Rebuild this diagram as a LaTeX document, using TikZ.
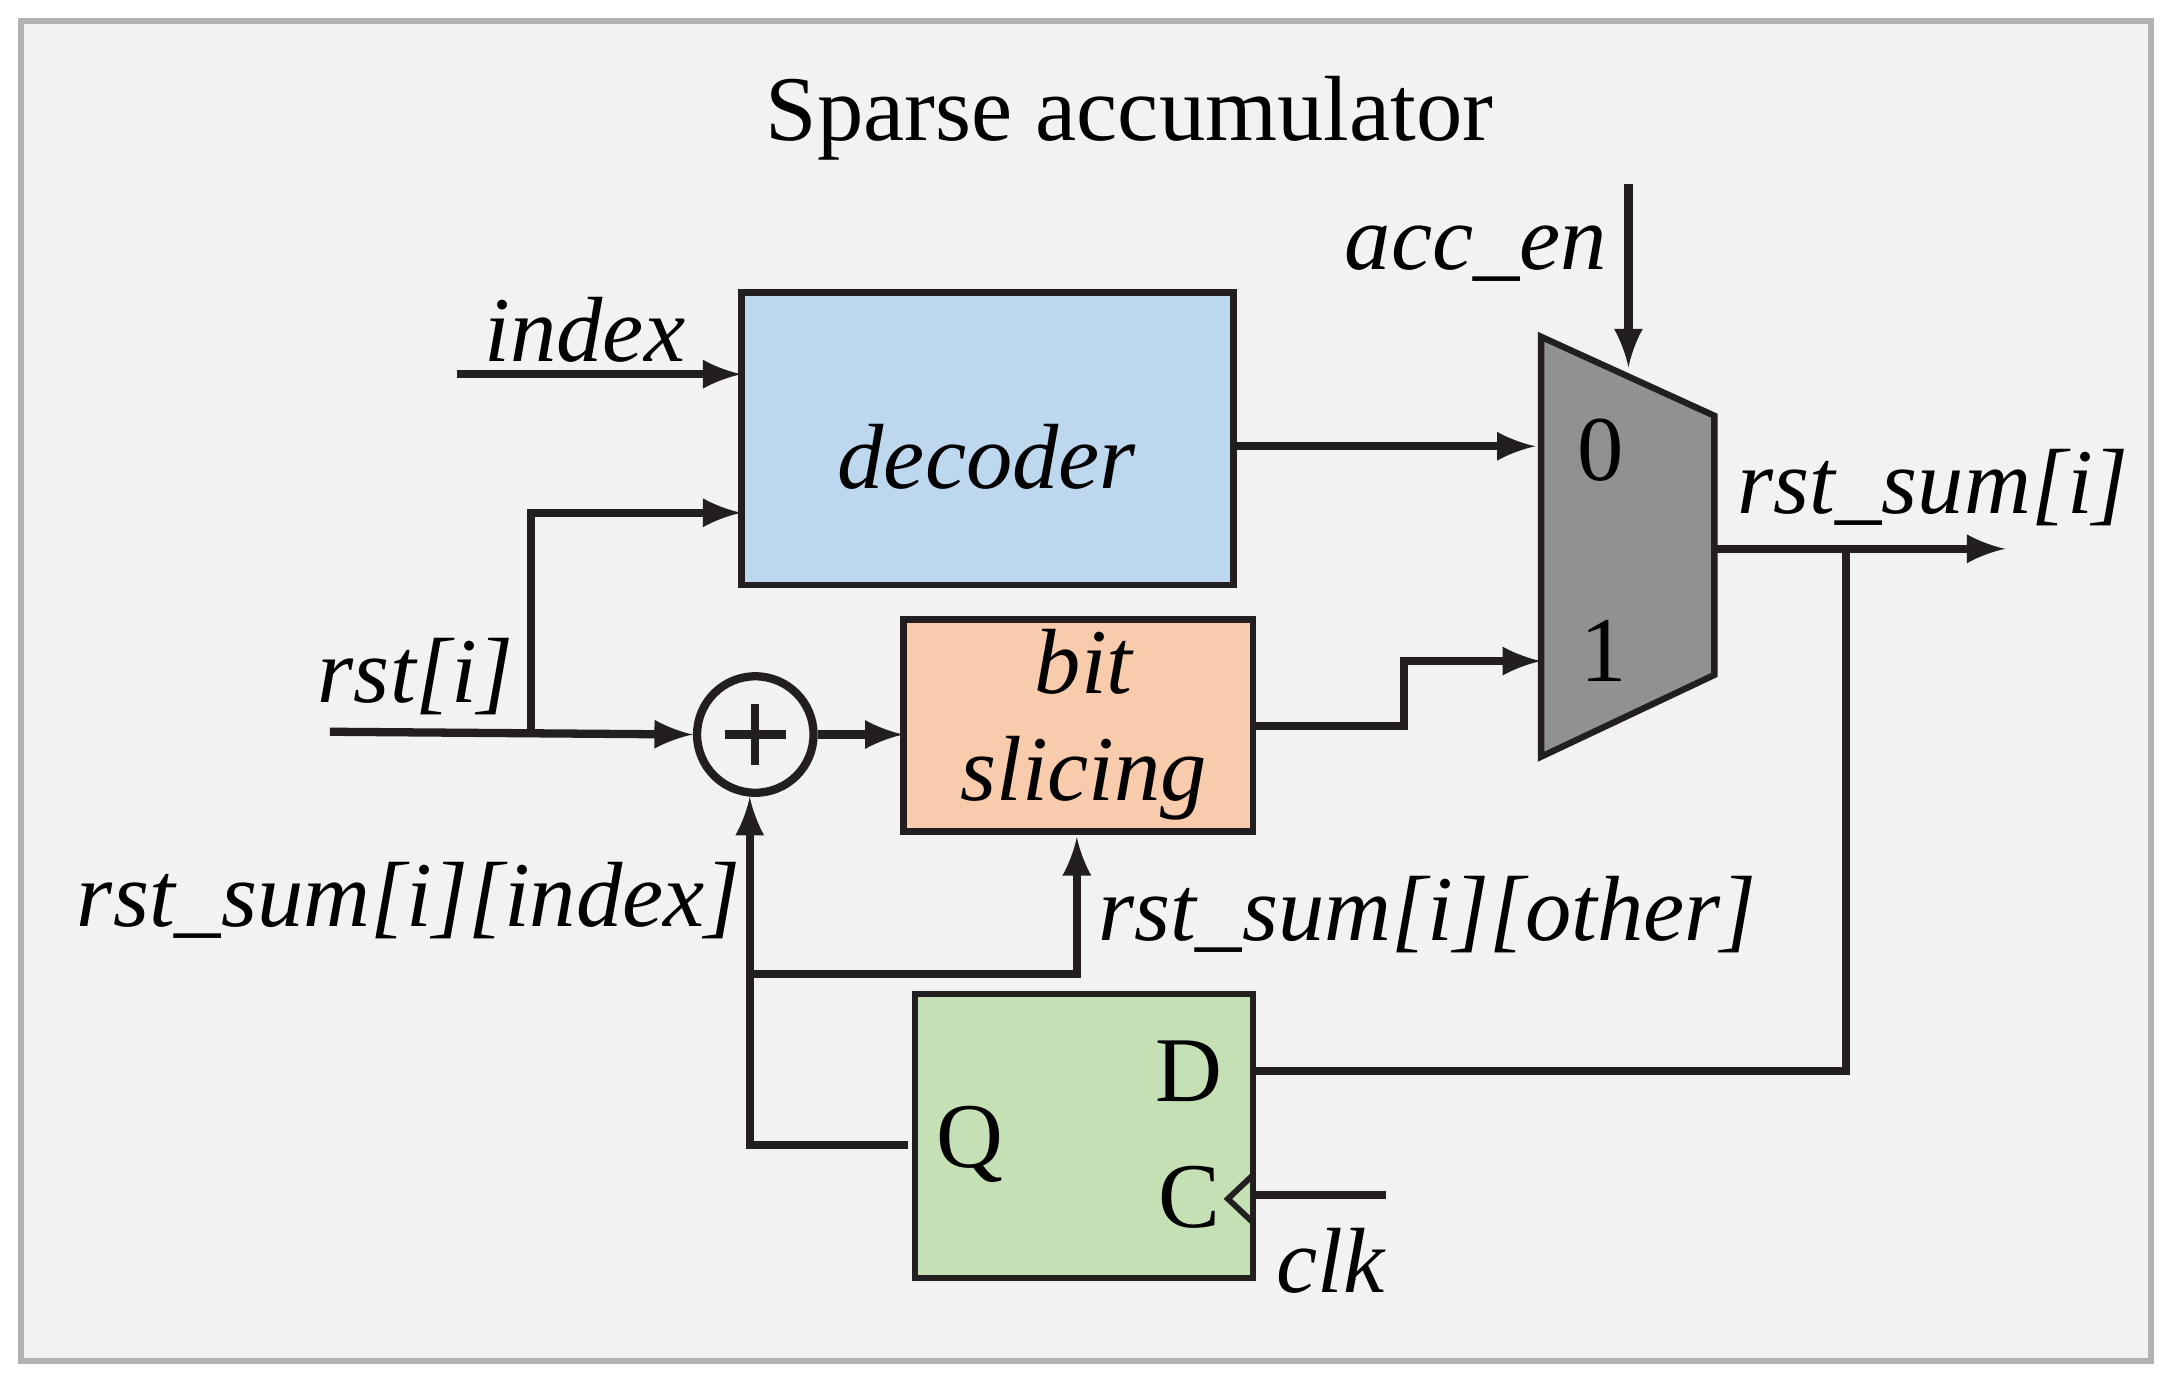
\documentclass[tikz,border=0pt]{standalone}
\usepackage{fontspec}
\setmainfont{Liberation Serif}
\usepackage{tikz}
\usetikzlibrary{positioning,calc,arrows.meta}
\definecolor{bgfill}{HTML}{F2F2F2}
\definecolor{decfill}{HTML}{BDD7EE}
\definecolor{slicefill}{HTML}{F8CBAD}
\definecolor{fffill}{HTML}{C5E0B4}
\definecolor{muxfill}{HTML}{919191}
\definecolor{wirec}{HTML}{231F20}
\begin{document}
\begin{tikzpicture}[x=0.01cm,y=-0.01cm,
    blk/.style={draw=wirec,line width=1.3pt,inner sep=0pt},
    lbl/.style={font=\fontsize{19}{22}\selectfont\itshape},
    pin/.style={font=\fontsize{19}{22}\selectfont},
    wire/.style={line width=1.7pt,draw=wirec}]
	\useasboundingbox (0,0) rectangle (1560,997);
	\draw[draw=gray!60,line width=1.2pt,fill=bgfill] (15,15) rectangle (1552,982);
	\node[font=\fontsize{19}{22}\selectfont] (title) at (815,85) {Sparse accumulator};

	\draw[blk,fill=decfill] (535,211) rectangle (890,422);
	\node[lbl] (dec) at (712,330) {decoder};
	\draw[blk,fill=slicefill] (652,447) rectangle (904,600);
	\node[lbl,align=center] (slice) at (782,523) {bit\\slicing};
	\draw[blk,fill=fffill] (660,717) rectangle (904,922);
	\node[pin] (D) at (858,773) {D};
	\node[pin] (Q) at (700,826) {Q};
	\node[pin] (C) at (858,864) {C};
	\draw[wire,line width=1.2pt] (904,848) -- (886,865) -- (904,882);
	\draw[blk,fill=muxfill] (1112,243) -- (1237,300) -- (1237,487) -- (1112,546) -- cycle;
	\node[pin] (m0) at (1155,325) {0};
	\node[pin] (m1) at (1157,470) {1};
	\node[circle,draw=wirec,line width=1.7pt,minimum size=0.84cm,inner sep=0pt] (add) at (545,530) {};
	\draw[wire] ($(add.center)+(0,-22)$) -- ($(add.center)+(0,22)$)
	            ($(add.center)+(-22,0)$) -- ($(add.center)+(22,0)$);

	\node[lbl] (idx) at (422,238) {index};
	\node[lbl] (rst) at (300,488) {rst[i]};
	\node[lbl] (acc) at (1065,183) {acc\_en};
	\node[lbl] (sum) at (1395,352) {rst\_sum[i]};
	\node[lbl] (sumidx) at (295,650) {rst\_sum[i][index]};
	\node[lbl] (sumoth) at (1030,660) {rst\_sum[i][other]};
	\node[lbl] (clk) at (960,910) {clk};

	\coordinate (idxin) at (330,270);
	\coordinate (rstin) at (238,528);
	\coordinate (accin) at (1175,133);
	\coordinate (out) at (1447,396);
	\coordinate (tap) at (1332,396);
	\coordinate (clkin) at (1000,862);

	\draw[wire,-latex] (idxin) -- (535,270);
	\draw[wire,-latex] (rstin) -- (add.west);
	\draw[wire,-latex] (383,528) -- (383,370) -- (535,370);
	\draw[wire,-latex] (add.east) -- (652,530);
	\draw[wire,-latex] (890,322) -- (1108,322);
	\draw[wire,-latex] (904,524) -- (1013,524) -- (1013,477) -- (1112,477);
	\draw[wire,-latex] (accin) -- (1175,265);
	\draw[wire,-latex] (1237,396) -- (out);
	\draw[wire] (tap) -- (1332,773) -- (904,773);
	\draw[wire,-latex] (655,826) -- (541,826) -- (add.south -| 541,0);
	\draw[wire,-latex] (541,703) -- (777,703) -- (777,604);
	\draw[wire] (clkin) -- (904,862);
\end{tikzpicture}
\end{document}
